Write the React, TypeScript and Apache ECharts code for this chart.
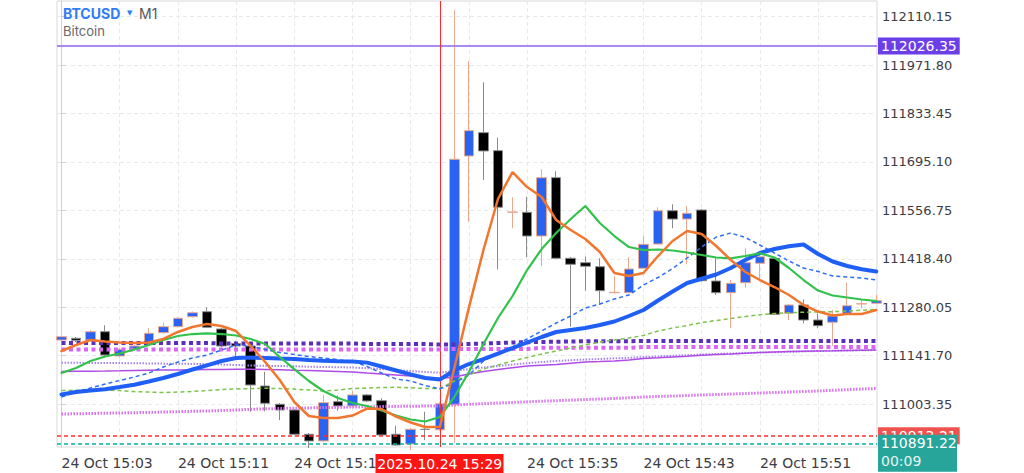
import React, { useEffect, useRef } from "react";
import * as echarts from "echarts";

// ---------- data ----------
const X_LABELS = ["24 Oct 15:03", "24 Oct 15:11", "24 Oct 15:19", "24 Oct 15:35", "24 Oct 15:43", "24 Oct 15:51"];
const X_LABEL_POS = [0, 8, 16, 32, 40, 48];
const X_GRID_POS = [0, 4, 8, 12, 16, 20, 24, 28, 32, 36, 40, 44, 48, 52, 56];
const Y_TICKS = [111003.35, 111141.7, 111280.05, 111418.4, 111556.75, 111695.1, 111833.45, 111971.8, 112110.15];

const OPEN = [
  111186.4, 111191.3, 111186.4, 111210.1, 111140.7, 111160.7, 111175.0, 111207.4, 111224.5, 111253.0,
  111267.3, 111217.9, 111176.4, 111169.3, 111055.0, 111002.8, 110986.5, 110917.1, 110898.0, 111010.3,
  110998.0, 111029.4, 111013.1, 110917.1, 110889.4, 110931.4, 110929.9, 111001.3, 111712.2, 111778.8,
  111727.4, 111551.3, 111551.3, 111483.6, 111650.2, 111419.9, 111407.3, 111395.9, 111321.6, 111321.6,
  111391.3, 111460.7, 111555.8, 111532.1, 111557.8, 111355.0, 111321.6, 111350.1, 111405.6, 111419.8,
  111262.7, 111286.4, 111243.6, 111237.0, 111262.7, 111289.3, 111291.3,
];
const CLOSE = [
  111195.8, 111185.6, 111210.1, 111143.5, 111159.8, 111169.3, 111205.6, 111224.5, 111248.5, 111264.4,
  111222.7, 111169.3, 111169.3, 111057.9, 111005.6, 110986.5, 110917.1, 110898.0, 111007.4, 110998.0,
  111029.4, 111012.3, 110915.1, 110886.5, 110931.4, 110930.8, 111004.2, 111702.8, 111784.6, 111726.6,
  111565.7, 111552.2, 111483.6, 111650.2, 111419.9, 111402.7, 111397.1, 111327.3, 111322.7, 111389.3,
  111459.9, 111555.8, 111532.1, 111548.4, 111355.8, 111321.6, 111348.4, 111407.3, 111424.4, 111259.8,
  111286.4, 111243.6, 111227.3, 111255.0, 111284.4, 111290.1, 111298.7,
];
const HIGH = [
  111198.8, 111195.0, 111215.0, 111228.6, 111163.6, 111172.5, 111220.8, 111235.9, 111252.2, 111267.9,
  111279.8, 111220.8, 111183.6, 111175.0, 111095.7, 111006.5, 110989.3, 110920.8, 111029.4, 111027.4,
  111041.7, 111032.3, 111020.0, 110941.4, 110935.1, 110981.6, 111009.9, 112129.3, 111983.6, 111922.7,
  111764.4, 111594.2, 111595.9, 111674.2, 111668.5, 111423.6, 111424.4, 111419.9, 111368.3, 111422.7,
  111483.6, 111565.6, 111574.1, 111569.3, 111560.7, 111419.8, 111357.8, 111448.4, 111438.7, 111423.6,
  111289.3, 111302.7, 111262.7, 111272.1, 111350.1, 111300.7, 111315.0,
];
const LOW = [
  111182.3, 111180.7, 111183.6, 111140.7, 111136.4, 111157.0, 111172.1, 111205.0, 111222.1, 111250.7,
  111220.8, 111166.4, 111139.7, 110981.6, 110982.8, 110957.4, 110915.1, 110878.0, 110895.1, 110984.4,
  110995.1, 111009.4, 110912.3, 110883.7, 110872.5, 110900.2, 110927.0, 110892.9, 111524.4, 111643.6,
  111388.4, 111505.6, 111422.7, 111397.7, 111417.9, 111224.4, 111327.3, 111286.4, 111319.8, 111319.8,
  111389.3, 111457.8, 111505.6, 111402.7, 111353.6, 111315.0, 111219.9, 111335.8, 111359.8, 111257.8,
  111243.6, 111234.1, 111219.9, 111170.0, 111260.7, 111277.0, 111289.3,
];

const MA_ORANGE = [
  111155.0, 111172.1, 111186.4, 111182.1, 111179.3, 111177.8, 111179.3, 111189.3, 111209.3, 111223.5,
  111232.1, 111226.4, 111212.1, 111169.3, 111123.5, 111072.1, 111009.3, 110969.3, 110963.5, 110963.5,
  110970.7, 110990.7, 110989.3, 110967.8, 110950.7, 110937.8, 110937.8, 111106.4, 111279.0, 111443.5,
  111589.3, 111666.4, 111623.5, 111595.0, 111529.3, 111500.7, 111475.0, 111437.8, 111377.8, 111369.3,
  111377.8, 111426.4, 111469.3, 111497.8, 111489.3, 111455.0, 111415.0, 111380.7, 111357.8, 111337.8,
  111315.0, 111286.4, 111267.8, 111256.4, 111260.7, 111260.7, 111272.1,
];
const MA_GREEN = [
  111092.1, 111106.4, 111126.4, 111139.3, 111147.8, 111159.3, 111172.1, 111186.4, 111197.8, 111203.5,
  111205.5, 111203.5, 111199.3, 111189.3, 111175.0, 111137.8, 111103.5, 111069.3, 111040.7, 111020.7,
  111006.4, 110997.8, 110985.0, 110970.7, 110959.3, 110953.5, 110966.4, 111023.5, 111095.0, 111175.0,
  111249.3, 111312.1, 111386.4, 111446.4, 111492.1, 111532.1, 111569.3, 111520.7, 111483.5, 111452.1,
  111443.5, 111445.0, 111442.1, 111436.4, 111429.3, 111422.1, 111419.8, 111426.4, 111434.1, 111422.1,
  111392.1, 111357.8, 111327.8, 111313.5, 111307.8, 111302.1, 111297.8,
];
const MA_BLUE = [
  111030.7, 111037.8, 111042.1, 111045.6, 111052.1, 111058.7, 111067.8, 111077.8, 111089.3, 111102.1,
  111114.1, 111126.4, 111135.0, 111136.4, 111135.0, 111133.5, 111132.1, 111129.3, 111127.3, 111125.8,
  111124.7, 111121.8, 111110.7, 111099.3, 111087.8, 111077.8, 111073.5, 111099.3, 111117.8, 111132.1,
  111147.8, 111163.5, 111179.3, 111195.0, 111209.3, 111215.0, 111220.7, 111229.3, 111239.3, 111255.0,
  111272.1, 111299.3, 111325.0, 111349.3, 111361.5, 111373.5, 111392.1, 111415.0, 111435.0, 111446.4,
  111454.1, 111459.3, 111432.1, 111410.7, 111397.8, 111388.4, 111382.1,
];
const MA_BLUE_DASH = [
  111023.5, 111037.8, 111049.3, 111060.7, 111070.7, 111080.7, 111092.1, 111109.3, 111123.5, 111135.0,
  111143.5, 111157.8, 111172.1, 111169.3, 111159.3, 111150.7, 111145.0, 111139.3, 111135.0, 111130.1,
  111125.8, 111110.7, 111092.1, 111075.0, 111069.3, 111056.4, 111046.4, 111063.5, 111086.4, 111126.4,
  111149.3, 111166.4, 111189.3, 111212.1, 111235.0, 111255.0, 111277.8, 111289.3, 111303.5, 111315.0,
  111343.5, 111365.0, 111390.7, 111420.7, 111452.1, 111480.7, 111492.1, 111479.3, 111457.8, 111435.0,
  111412.1, 111392.1, 111382.1, 111369.3, 111366.4, 111363.5, 111357.8,
];
const MA_LIME_DASH = [
  111042.1, 111042.7, 111043.5, 111043.0, 111041.9, 111039.0, 111037.8, 111036.4, 111037.8, 111039.3,
  111042.1, 111045.0, 111046.4, 111047.8, 111048.4, 111047.8, 111046.1, 111043.5, 111041.0, 111043.5,
  111047.8, 111049.3, 111050.7, 111051.3, 111049.8, 111047.8, 111047.8, 111069.3, 111086.4, 111103.5,
  111115.0, 111126.4, 111136.4, 111146.4, 111155.0, 111163.5, 111172.1, 111180.7, 111186.4, 111192.1,
  111199.3, 111212.1, 111220.7, 111227.8, 111236.4, 111242.1, 111247.8, 111253.5, 111258.4, 111262.1,
  111264.4, 111265.8, 111266.4, 111267.3, 111269.3, 111271.3, 111273.5,
];
const MA_INDIGO_DOT = [
  111177.8, 111177.8, 111177.8, 111177.8, 111177.8, 111177.8, 111177.8, 111177.8, 111177.8, 111177.8,
  111177.8, 111176.4, 111176.4, 111176.4, 111176.4, 111176.4, 111176.4, 111176.4, 111176.4, 111176.4,
  111176.4, 111175.0, 111175.0, 111175.0, 111175.0, 111175.0, 111173.6, 111173.6, 111175.0, 111176.4,
  111177.8, 111179.3, 111180.1, 111180.7, 111181.5, 111182.1, 111183.0, 111183.0, 111183.0, 111183.0,
  111183.6, 111183.6, 111183.6, 111183.6, 111183.6, 111183.6, 111183.6, 111183.6, 111183.6, 111183.6,
  111183.6, 111183.6, 111183.6, 111183.6, 111183.6, 111183.6, 111183.6,
];
const MA_PINK_DOT = [
  111159.3, 111159.3, 111159.3, 111159.3, 111159.3, 111159.3, 111159.3, 111159.3, 111159.3, 111159.3,
  111159.3, 111159.3, 111159.3, 111159.3, 111159.3, 111159.3, 111159.3, 111159.3, 111159.3, 111159.3,
  111159.3, 111159.3, 111159.3, 111159.3, 111159.3, 111159.3, 111159.3, 111161.0, 111161.0, 111161.0,
  111161.0, 111161.0, 111161.0, 111164.0, 111164.0, 111164.0, 111164.0, 111164.0, 111164.0, 111164.0,
  111166.4, 111166.4, 111166.4, 111166.4, 111166.4, 111166.4, 111166.4, 111166.4, 111166.4, 111166.4,
  111166.4, 111166.4, 111166.4, 111166.4, 111166.4, 111166.4, 111166.4,
];
const MA_VIOLET = [
  111096.4, 111097.0, 111097.5, 111097.8, 111098.4, 111099.3, 111099.9, 111100.4, 111101.0, 111101.5,
  111102.1, 111102.4, 111102.7, 111102.7, 111102.1, 111101.3, 111100.1, 111099.0, 111097.8, 111096.4,
  111095.0, 111092.1, 111089.3, 111086.4, 111083.5, 111079.8, 111076.4, 111080.7, 111089.3, 111096.4,
  111102.1, 111107.2, 111112.1, 111114.4, 111116.4, 111120.1, 111123.5, 111124.9, 111126.4, 111129.3,
  111133.5, 111135.5, 111137.8, 111140.1, 111142.7, 111144.7, 111146.4, 111148.7, 111150.7, 111152.1,
  111153.5, 111154.4, 111155.0, 111155.6, 111156.4, 111157.3, 111157.8,
];
const MA_LAVENDER_DOT = [
  111121.5, 111121.3, 111121.0, 111120.7, 111120.4, 111120.1, 111119.5, 111118.9, 111118.6, 111118.1,
  111117.8, 111116.4, 111115.0, 111113.5, 111112.7, 111112.1, 111111.3, 111110.1, 111109.3, 111108.7,
  111107.8, 111105.8, 111103.5, 111100.7, 111097.8, 111095.0, 111093.0, 111097.8, 111103.5, 111107.8,
  111112.1, 111116.4, 111120.1, 111123.5, 111126.4, 111128.7, 111130.7, 111132.1, 111134.1, 111135.8,
  111137.8, 111139.5, 111141.3, 111143.0, 111145.0, 111146.4, 111147.8, 111149.3, 111150.7, 111151.5,
  111152.7, 111153.8, 111155.0, 111155.6, 111156.4, 111157.0, 111157.8,
];
const MA_ORCHID_DOT = [
  110975.0, 110975.6, 110976.4, 110977.3, 110977.9, 110978.7, 110979.6, 110980.7, 110981.6, 110982.7,
  110983.6, 110985.0, 110986.4, 110988.4, 110989.9, 110990.7, 110991.6, 110992.4, 110993.3, 110994.1,
  110995.0, 110995.6, 110996.1, 110996.7, 110997.3, 110997.6, 110997.8, 111000.7, 111002.7, 111004.7,
  111006.4, 111008.1, 111009.8, 111011.6, 111013.0, 111014.7, 111016.4, 111017.8, 111019.6, 111021.3,
  111023.5, 111025.0, 111026.4, 111027.8, 111029.3, 111030.7, 111032.1, 111033.5, 111035.0, 111036.4,
  111037.8, 111039.3, 111040.7, 111042.7, 111044.4, 111046.4, 111047.8,
];

const PRICE_ALERT = 112026.35;
const PRICE_ASK = 110913.21;
const PRICE_BID = 110891.22;
const CROSS_INDEX = 26;
const CROSS_LABEL = "2025.10.24 15:29";
const BAR_TIMER = "00:09";
const SYMBOL = "BTCUSD";
const PERIOD = "M1";
const SYMBOL_NAME = "Bitcoin";

const Y_MIN = 110880.72;
const Y_MAX = 112155.0;
const X_MIN = -0.31;
const X_MAX = 56.05;

const FONT = "'DejaVu Sans', Inter, sans-serif";
const UI_FONT = "Inter, 'DejaVu Sans', sans-serif";

export default function App() {
  const ref = useRef<HTMLDivElement>(null);

  useEffect(() => {
    document.body.style.margin = "0";
    const chart = echarts.init(ref.current as HTMLDivElement, null, { renderer: "svg" });

    const candleData = OPEN.map((o, i) => [i, o, CLOSE[i], LOW[i], HIGH[i]]);
    const toXY = (vals: number[]) => vals.map((v, i) => [i, v]);
    const line = (name: string, vals: number[], color: string, width: number, type: any, z: number, cap: any = "butt") => ({
      type: "line",
      name,
      data: toXY(vals),
      symbol: "none",
      silent: true,
      z,
      lineStyle: { color, width, type, cap },
    });

    const priceLabel = (text: string, bg: string) => ({
      show: true,
      position: "end",
      distance: 1,
      formatter: text,
      color: "#ffffff",
      backgroundColor: bg,
      padding: [2, 3, 1, 3],
      fontSize: 14,
      fontFamily: FONT,
    });

    // price level drawn by the library as a markLine on an empty helper series
    const refLine = (name: string, item: any, color: string, width: number, type: any, label: any, z: number) => ({
      type: "line",
      name,
      data: [],
      silent: true,
      z,
      color,
      markLine: {
        silent: true,
        symbol: ["none", "none"],
        animation: false,
        precision: 2,
        lineStyle: { color, width, type, opacity: 1 },
        label,
        data: [item],
      },
    });

    chart.setOption({
      animation: false,
      backgroundColor: "#ffffff",
      grid: { left: 57, right: 147, top: 1, height: 446, show: true, borderColor: "#d9d9d9", borderWidth: 1, backgroundColor: "transparent" },
      xAxis: {
        type: "value",
        min: X_MIN,
        max: X_MAX,
        axisLine: { show: false },
        axisTick: { show: false, customValues: X_GRID_POS },
        splitLine: { show: true, lineStyle: { color: "#e6e9ee", type: [4, 3], width: 1 } },
        axisLabel: {
          customValues: X_LABEL_POS,
          formatter: (v: number) => X_LABELS[X_LABEL_POS.indexOf(Math.round(v))] ?? "",
          align: "left",
          margin: 9,
          color: "#3c3c44",
          fontSize: 14,
          fontFamily: FONT,
        },
      },
      yAxis: {
        type: "value",
        position: "right",
        min: Y_MIN,
        max: Y_MAX,
        scale: true,
        axisLine: { show: true, lineStyle: { color: "#cfcfcf" } },
        axisTick: { show: true, length: 4, customValues: Y_TICKS, lineStyle: { color: "#cfcfcf" } },
        splitLine: { show: true, lineStyle: { color: "#e6e9ee", type: [4, 3], width: 1 } },
        axisLabel: {
          customValues: Y_TICKS,
          formatter: (v: number) => v.toFixed(2),
          margin: 5,
          color: "#3c3c44",
          fontSize: 13,
          fontFamily: FONT,
        },
      },
      series: [
        {
          type: "candlestick",
          name: SYMBOL,
          data: candleData,
          encode: { x: 0, y: [1, 2, 3, 4] },
          barWidth: 10,
          z: 2,
          silent: true,
          itemStyle: {
            color: "#2a62f2",
            color0: "#000000",
            borderColor: "#eba88c",
            borderColor0: "#8a8a8a",
            borderWidth: 1,
          },
        },
        refLine("ask", { yAxis: PRICE_ASK }, "#ff2d2d", 1.6, [4, 3], priceLabel(PRICE_ASK.toFixed(2), "#ef5350"), 13),
        refLine("bid", { yAxis: PRICE_BID }, "#00b3a0", 1.6, [4, 3], { show: false }, 13),
        refLine("alert", { yAxis: PRICE_ALERT }, "#8c63ef", 1.5, "solid", priceLabel(PRICE_ALERT.toFixed(2), "#6b3ee8"), 13),
        refLine("cross", { xAxis: CROSS_INDEX }, "#ff2a2a", 1, "solid", { show: false }, 14),
        line("MA orchid", MA_ORCHID_DOT, "#dc6ef2", 3, [1.5, 1.5], 3),
        line("MA lavender", MA_LAVENDER_DOT, "#a585f0", 2, [1.5, 1.5], 4),
        line("MA violet", MA_VIOLET, "#b04be6", 1.5, "solid", 5),
        line("MA pink", MA_PINK_DOT, "#d866f2", 4, [4, 3.5], 6),
        line("MA indigo", MA_INDIGO_DOT, "#5a2eb9", 4, [4, 3.5], 7),
        line("MA lime", MA_LIME_DASH, "#7dc44b", 1.5, [4, 3], 8),
        line("MA blue dashed", MA_BLUE_DASH, "#2e6ff5", 1.5, [4, 3], 9),
        line("MA blue", MA_BLUE, "#1f5ff5", 4, "solid", 10, "round"),
        line("MA green", MA_GREEN, "#31c24c", 2.2, "solid", 11, "round"),
        line("MA orange", MA_ORANGE, "#f2762e", 2.5, "solid", 12, "round"),
      ],
    });

    const xCross = chart.convertToPixel({ xAxisIndex: 0 }, CROSS_INDEX) as number;
    const yBid = chart.convertToPixel({ yAxisIndex: 0 }, PRICE_BID) as number;

    chart.setOption({
      graphic: [
        { type: "text", z: 100, x: 63, y: 13, style: { text: SYMBOL, fill: "#2f7cf6", fontSize: 14, fontWeight: "bold", fontFamily: UI_FONT, textVerticalAlign: "middle" } },
        { type: "text", z: 100, x: 127, y: 13, style: { text: "▼", fill: "#2f7cf6", fontSize: 7, fontFamily: FONT, textVerticalAlign: "middle" } },
        { type: "text", z: 100, x: 139, y: 13, style: { text: PERIOD, fill: "#55555c", fontSize: 14, fontFamily: UI_FONT, textVerticalAlign: "middle" } },
        { type: "text", z: 100, x: 63, y: 31, style: { text: SYMBOL_NAME, fill: "#66666c", fontSize: 13, fontFamily: UI_FONT, textVerticalAlign: "middle" } },
        { type: "rect", z: 100, shape: { x: Math.round(xCross) - 64.5, y: 454, width: 128, height: 19 }, style: { fill: "#ff1414" } },
        { type: "text", z: 101, x: xCross, y: 463.5, style: { text: CROSS_LABEL, fill: "#ffffff", fontSize: 14, fontFamily: FONT, textAlign: "center", textVerticalAlign: "middle" } },
        { type: "rect", z: 100, shape: { x: 878, y: yBid - 8.5, width: 79, height: 37 }, style: { fill: "#27a59a" } },
        { type: "text", z: 101, x: 881, y: yBid, style: { text: PRICE_BID.toFixed(2), fill: "#ffffff", fontSize: 14, fontFamily: FONT, textVerticalAlign: "middle" } },
        { type: "text", z: 101, x: 881, y: yBid + 18, style: { text: BAR_TIMER, fill: "#e8f6f4", fontSize: 14, fontFamily: FONT, textVerticalAlign: "middle" } },
      ],
    });

    return () => chart.dispose();
  }, []);

  return <div ref={ref} style={{ position: "absolute", left: 0, top: 0, width: 1024, height: 473 }} />;
}
